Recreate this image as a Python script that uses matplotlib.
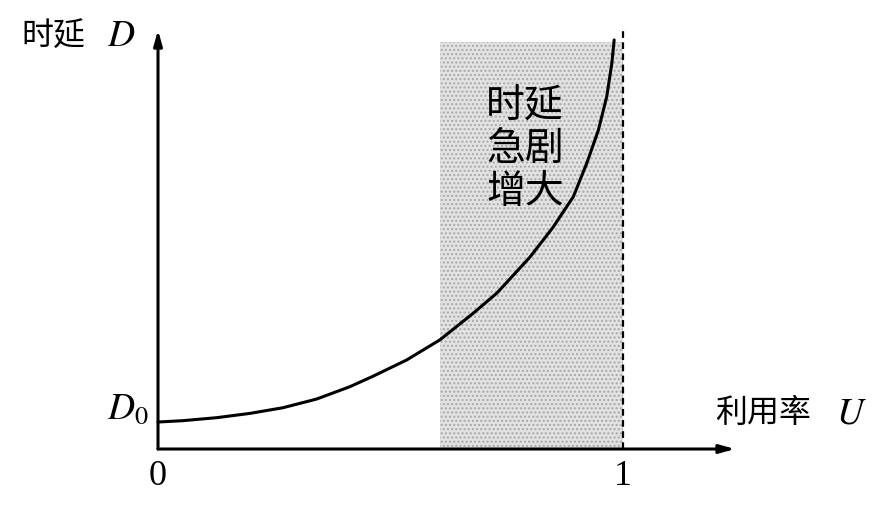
import matplotlib.pyplot as plt

plt.rcParams['font.family'] = ['Noto Sans CJK SC', 'DejaVu Sans']
plt.rcParams['mathtext.fontset'] = 'stix'

# curve: utilisation U vs delay D (in units of D0)
util = [0.0, 0.054, 0.126, 0.198, 0.269, 0.341, 0.413, 0.463, 0.535,
        0.606, 0.678, 0.729, 0.800, 0.849, 0.893, 0.922, 0.947, 0.965,
        0.976, 0.981]
delay = [1.0, 1.05, 1.16, 1.32, 1.53, 1.85, 2.31, 2.70, 3.30,
         4.04, 5.03, 5.78, 7.11, 8.20, 9.34, 10.58, 11.81, 13.05,
         14.29, 15.15]

# shaded "steep" zone and the asymptote
zone_u = [0.606, 1.0]
zone_top = 15.07
asymptote_u = 1.0

fig = plt.figure(figsize=(8.85, 5.13), dpi=100)
ax = fig.add_axes([0, 0, 1, 1])
ax.set_xlim(-0.3398, 1.5634)
ax.set_ylim(-2.37, 16.63)
ax.axis('off')

# shaded region
ax.fill_between(zone_u, 0, zone_top, facecolor='#e2e2e2', edgecolor='none',
                zorder=1)
ax.fill_between(zone_u, 0, zone_top, facecolor='none', edgecolor='#a8a8a8',
                hatch='....', linewidth=0, zorder=1)

# dashed asymptote at U = 1
ax.plot([asymptote_u, asymptote_u], [0, 15.6], color='black', lw=1.6,
        ls=(0, (3, 2)), zorder=3)

# curve
ax.plot(util, delay, color='black', lw=2.2, solid_capstyle='round',
        solid_joinstyle='round', zorder=4)

# axes with arrows
arrow = dict(arrowstyle='-|>,head_length=0.9,head_width=0.25', color='black',
             lw=2.2, shrinkA=0, shrinkB=0)
ax.annotate('', xy=(0, 15.52), xytext=(0, 0), arrowprops=arrow, zorder=5)
ax.annotate('', xy=(1.241, 0), xytext=(0, 0), arrowprops=arrow, zorder=5)

# labels
ax.text(-0.225, 15.3, '时延', fontsize=23, ha='center', va='center')
ax.text(-0.08, 15.3, '$D$', fontsize=27, ha='center', va='center')
ax.text(1.301, 1.35, '利用率', fontsize=23, ha='center', va='center')
ax.text(1.49, 1.35, '$U$', fontsize=27, ha='center', va='center')
ax.text(-0.02, 1.5, '$D_0$', fontsize=27, ha='right', va='center')
ax.text(0, -1.0, '0', fontsize=26, ha='center', va='center',
        family='Liberation Serif')
ax.text(1.0, -1.0, '1', fontsize=26, ha='center', va='center',
        family='Liberation Serif')
ax.text(0.789, 11.1, '时延\n急剧\n增大', fontsize=28, ha='center', va='center',
        linespacing=1.1, zorder=6)

fig.savefig('out.png', dpi=100)
